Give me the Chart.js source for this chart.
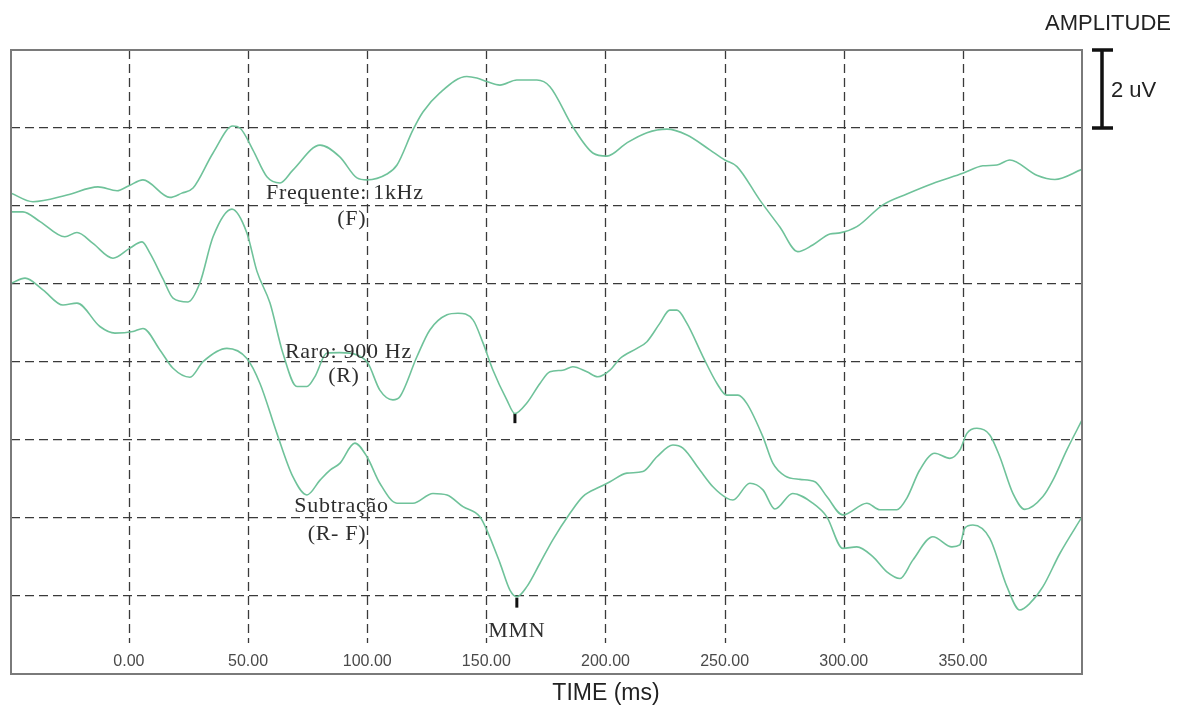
<!DOCTYPE html>
<html>
<head>
<meta charset="utf-8">
<script src="https://cdn.jsdelivr.net/npm/chart.js@4.4.1/dist/chart.umd.min.js"></script>
<style>
  html, body { margin: 0; padding: 0; background: #fff; }
  #wrap { width: 1182px; height: 709px; }
</style>
</head>
<body>
<div id="wrap"><canvas id="erp" width="1182" height="709"></canvas></div>
<script>
// ── data (time in ms, amplitude in uV, stacked offsets as drawn) ──
const xTicks = [0, 50, 100, 150, 200, 250, 300, 350];
const yGrid = [2, 4, 6, 8, 10, 12, 14];
const scaleBarUV = 2;

// Frequente: 1kHz (F)
const fTime = [-49.5, -40.3, -26.0, -13.0, -5.0, 0, 5.9, 17.2, 22.2, 26.9, 35.3, 43.6, 46.6, 52.0, 57.9, 63.4, 68.8,
  80.2, 88.5, 95.7, 99.9, 108.3, 112.5, 119.2, 123.4, 130.5, 141.8, 146.0, 150.2, 155.7, 162.8, 171.2, 176.7,
  186.3, 194.7, 200.6, 209.0, 217.4, 225.8, 234.2, 243.8, 250.1, 255.2, 264.8, 273.2, 280.7, 287.0, 294.2,
  298.4, 305.5, 316.4, 326.5, 337.4, 350.0, 358.4, 364.3, 369.7, 381.0, 388.6, 400];
const fAmp = [12.33, 12.11, 12.28, 12.49, 12.39, 12.52, 12.67, 12.22, 12.33, 12.46, 13.36, 14.05, 14.0, 13.44, 12.75, 12.59, 12.92,
  13.56, 13.26, 12.72, 12.67, 12.82, 13.05, 13.95, 14.41, 14.90, 15.32, 15.28, 15.19, 15.10, 15.23, 15.23, 15.06,
  14.03, 13.36, 13.28, 13.62, 13.88, 13.97, 13.82, 13.44, 13.18, 13.01, 12.15, 11.46, 10.83, 11.0, 11.28,
  11.31, 11.47, 12.03, 12.31, 12.58, 12.84, 13.03, 13.05, 13.18, 12.79, 12.68, 12.94];

// Raro: 900 Hz (R)
const rTime = [-49.5, -44.5, -37.3, -26.9, -21.8, -15.1, -6.7, 0.4, 5.5, 8.8, 14.3, 18.5, 24.8, 29.8, 35.3, 43.2, 49.5,
  53.7, 59.2, 64.6, 70.5, 74.7, 78.0, 83.1, 88.5, 95.7, 100.3, 105.3, 110.8, 113.7, 120.9, 126.3, 133.5, 138.1,
  144.4, 148.6, 152.8, 158.6, 162.0, 167.0, 172.5, 176.7, 182.1, 186.3, 192.2, 196.8, 201.9, 206.1, 213.2,
  217.4, 222.8, 227.0, 230.0, 234.2, 240.9, 246.8, 250.9, 255.6, 259.3, 266.1, 270.3, 275.3, 281.6, 287.9,
  292.9, 299.6, 309.7, 315.2, 322.3, 326.5, 331.9, 338.2, 344.5, 348.7, 351.7, 355.9, 361.3, 365.5, 371.0,
  376.0, 383.6, 387.8, 393.6, 400];
const rAmp = [11.85, 11.85, 11.60, 11.21, 11.32, 11.04, 10.66, 10.92, 11.08, 10.79, 10.13, 9.64, 9.54, 10.03, 11.21, 11.92, 11.31,
  10.33, 9.51, 8.23, 7.37, 7.37, 7.62, 8.23, 8.24, 8.18, 7.97, 7.28, 7.03, 7.11, 8.14, 8.82, 9.21, 9.25,
  9.08, 8.49, 7.79, 7.03, 6.68, 6.95, 7.45, 7.75, 7.79, 7.88, 7.75, 7.62, 7.79, 8.09, 8.35,
  8.52, 8.99, 9.33, 9.33, 8.99, 8.14, 7.45, 7.15, 7.15, 6.94, 6.08, 5.40, 5.08, 4.99, 4.93,
  4.55, 4.08, 4.38, 4.21, 4.21, 4.51, 5.23, 5.66, 5.53, 5.74, 6.17, 6.30, 6.13, 5.57, 4.63,
  4.22, 4.55, 4.97, 5.74, 6.51];

// Subtração (R - F)
const sTime = [-49.5, -43.6, -36.1, -27.7, -21.8, -12.2, -5.9, 1.7, 5.9, 13.0, 18.5, 25.6, 31.1, 41.1, 49.5, 55.0, 62.1,
  68.8, 74.7, 80.2, 84.4, 88.5, 94.8, 99.9, 105.3, 112.5, 119.2, 127.6, 133.5, 140.2, 147.3, 150.2, 155.7,
  159.9, 162.8, 167.0, 172.5, 177.9, 185.1, 190.5, 197.7, 201.9, 209.0, 215.7, 221.6, 228.3, 232.5, 239.6,
  245.1, 250.9, 253.5, 260.6, 266.1, 271.1, 278.6, 287.0, 292.9, 299.6, 305.5, 312.2, 318.1, 323.6, 329.0,
  337.4, 345.4, 348.7, 350.8, 354.2, 361.3, 368.5, 373.9, 378.1, 383.6, 390.7, 400];
const sAmp = [10.02, 10.15, 9.85, 9.46, 9.51, 8.91, 8.74, 8.78, 8.86, 8.31, 7.84, 7.61, 8.01, 8.35, 8.09, 7.45, 6.17,
  5.06, 4.59, 4.97, 5.23, 5.40, 5.92, 5.57, 4.89, 4.38, 4.38, 4.63, 4.59, 4.29, 4.03, 3.69, 2.85,
  2.15, 1.98, 2.24, 2.84, 3.44, 4.12, 4.55, 4.80, 4.93, 5.15, 5.19, 5.57, 5.87, 5.79, 5.23,
  4.80, 4.51, 4.46, 4.89, 4.72, 4.23, 4.63, 4.38, 4.03, 3.22, 3.26, 3.01, 2.62, 2.45, 2.92,
  3.52, 3.26, 3.31, 3.74, 3.82, 3.48, 2.24, 1.64, 1.81, 2.24, 3.09, 4.03];

// MMN peak markers (R and R-F minima)
const mmnTime = [162.0, 162.8];
const mmnAmp = [6.56, 1.83];

const zip = (xs, ys) => xs.map((x, i) => ({ x, y: ys[i] }));

// ── styling ──
const TRACE = '#6fc29a';
const GRID = '#3a3a3a';
const SERIF = '"Liberation Serif", "DejaVu Serif", serif';
const SANS = '"Liberation Sans", Arial, sans-serif';

// text notes, anchored in data units
const notes = [
  { text: 'Frequente: 1kHz', x: 90.6, y: 12.17 },
  { text: '(F)', x: 93.5, y: 11.51 },
  { text: 'Raro: 900 Hz', x: 92.1, y: 8.10 },
  { text: '(R)', x: 90.2, y: 7.49 },
  { text: 'Subtração', x: 89.2, y: 4.15 },
  { text: '(R- F)', x: 87.3, y: 3.44 },
  { text: 'MMN', x: 162.8, y: 0.95 },
];

const decor = {
  id: 'decor',
  beforeDatasetsDraw(chart) {
    const { ctx, chartArea: a, scales: { x } } = chart;
    ctx.save();
    // vertical dashed grid, stopping above the tick labels
    ctx.strokeStyle = GRID;
    ctx.lineWidth = 1.3;
    ctx.setLineDash([9, 5]);
    xTicks.forEach(t => {
      const px = Math.round(x.getPixelForValue(t)) + 0.5;
      ctx.beginPath();
      ctx.moveTo(px, a.top);
      ctx.lineTo(px, a.bottom - 31);
      ctx.stroke();
    });
    ctx.setLineDash([]);
    // tick labels inside the frame
    ctx.fillStyle = '#4a4a4a';
    ctx.font = '16px ' + SANS;
    ctx.textAlign = 'center';
    ctx.textBaseline = 'alphabetic';
    xTicks.forEach(t => {
      ctx.fillText(t.toFixed(2), x.getPixelForValue(t), a.bottom - 8);
    });
    ctx.restore();
  },
  afterDatasetsDraw(chart) {
    const { ctx, chartArea: a, scales: { x, y } } = chart;
    ctx.save();
    // frame
    ctx.strokeStyle = '#7a7a7a';
    ctx.lineWidth = 2;
    ctx.strokeRect(a.left, a.top, a.right - a.left, a.bottom - a.top);

    // notes
    ctx.fillStyle = '#2e2e2e';
    ctx.font = '22px ' + SERIF;
    ctx.letterSpacing = '0.7px';
    ctx.textAlign = 'center';
    ctx.textBaseline = 'alphabetic';
    notes.forEach(n => ctx.fillText(n.text, x.getPixelForValue(n.x), y.getPixelForValue(n.y)));
    ctx.letterSpacing = '0px';

    // amplitude scale bar
    const top = y.getPixelForValue(y.max);
    const bot = y.getPixelForValue(y.max - scaleBarUV);
    const bx = a.right + 20;
    ctx.strokeStyle = '#111';
    ctx.lineWidth = 3.5;
    ctx.beginPath();
    ctx.moveTo(bx, top); ctx.lineTo(bx, bot);
    ctx.moveTo(bx - 10, top); ctx.lineTo(bx + 11, top);
    ctx.moveTo(bx - 10, bot); ctx.lineTo(bx + 11, bot);
    ctx.stroke();

    ctx.fillStyle = '#222';
    ctx.font = '22px ' + SANS;
    ctx.textAlign = 'left';
    ctx.fillText(scaleBarUV + ' uV', bx + 9, (top + bot) / 2 + 8);
    ctx.textAlign = 'right';
    ctx.fillText('AMPLITUDE', 1171, 30);

    ctx.textAlign = 'center';
    ctx.font = '23px ' + SANS;
    ctx.fillText('TIME (ms)', 606, 700);
    ctx.restore();
  }
};

const line = (data) => ({
  data,
  borderColor: TRACE,
  borderWidth: 1.6,
  pointRadius: 0,
  fill: false,
  cubicInterpolationMode: 'monotone',
});

new Chart(document.getElementById('erp'), {
  type: 'line',
  data: {
    datasets: [
      line(zip(fTime, fAmp)),
      line(zip(rTime, rAmp)),
      line(zip(sTime, sAmp)),
      {
        type: 'scatter',
        data: zip(mmnTime, mmnAmp),
        pointStyle: 'line',
        rotation: 90,
        pointRadius: 5,
        borderWidth: 3,
        borderColor: '#111',
        backgroundColor: '#111',
      },
    ],
  },
  options: {
    responsive: false,
    animation: false,
    devicePixelRatio: 1,
    layout: { padding: { left: 11, top: 50, right: 100, bottom: 35 } },
    plugins: { legend: { display: false }, tooltip: { enabled: false } },
    scales: {
      x: {
        type: 'linear',
        min: -49.5,
        max: 400,
        grid: { display: false },
        ticks: { display: false },
        border: { display: false },
        afterFit: s => { s.height = 0; },
      },
      y: {
        min: 0,
        max: 16,
        afterBuildTicks: s => { s.ticks = yGrid.map(v => ({ value: v })); },
        grid: { color: GRID, lineWidth: 1.3, drawTicks: false },
        border: { display: false, dash: [9, 5] },
        ticks: { display: false },
        afterFit: s => { s.width = 0; },
      },
    },
  },
  plugins: [decor],
});
</script>
</body>
</html>
